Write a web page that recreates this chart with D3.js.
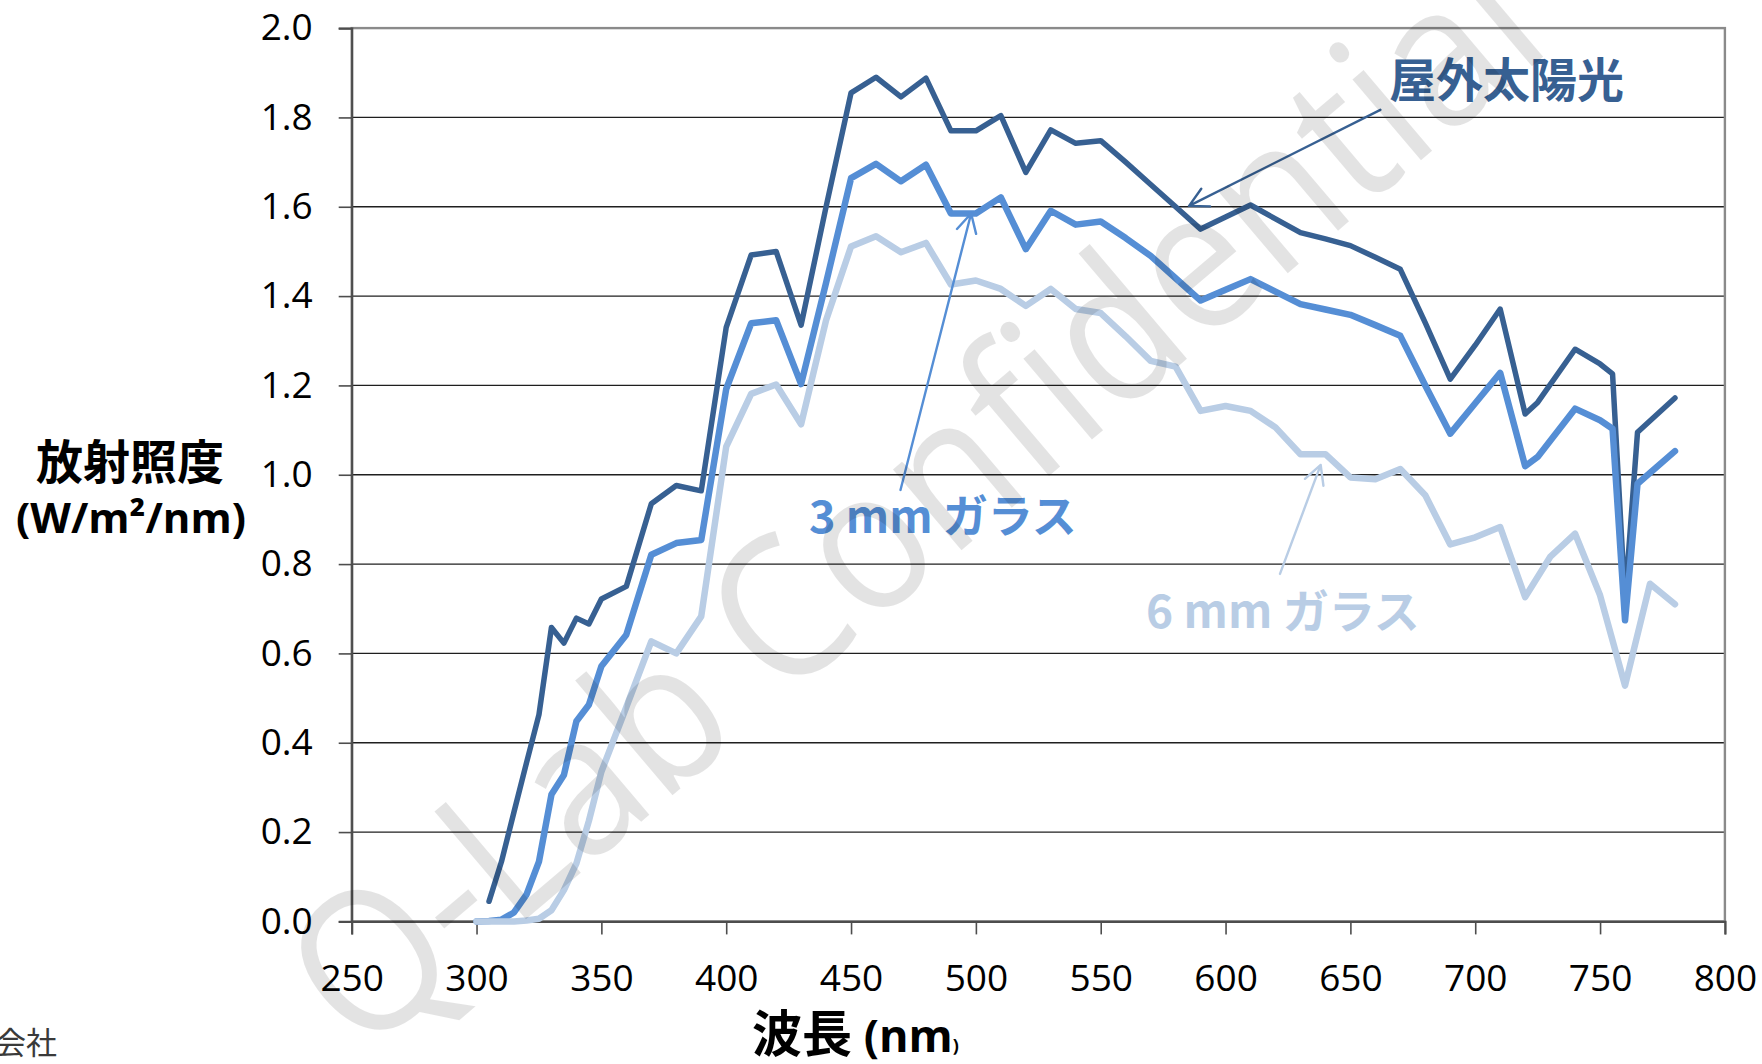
<!DOCTYPE html>
<html>
<head>
<meta charset="utf-8">
<script src="https://cdn.jsdelivr.net/npm/d3@7"></script>
<style>
  html, body { margin: 0; padding: 0; background: #fff; }
  svg { display: block; }
</style>
</head>
<body>
<svg id="chart" width="1762" height="1064"></svg>
<script>
// ---- Spectral irradiance data (W/m²/nm) ----
const wlSun = [305,310,315,320,325,330,335,340,345,350,360,370,380,390,400,410,420,430,440,450,460,470,480,490,500,510,520,530,540,550,560,570,580,590,600,610,620,630,640,650,660,670,680,690,700,710,720,725,740,750,755,760,765,780];
const sun = [0.045,0.134,0.245,0.355,0.463,0.658,0.623,0.679,0.666,0.722,0.750,0.935,0.976,0.964,1.330,1.492,1.500,1.335,1.600,1.855,1.890,1.846,1.888,1.770,1.770,1.804,1.677,1.772,1.742,1.748,1.700,1.650,1.600,1.550,1.577,1.604,1.573,1.542,1.528,1.513,1.487,1.460,1.340,1.214,1.290,1.371,1.136,1.162,1.281,1.248,1.226,0.720,1.095,1.172];

const wlGlass3 = [300,305,310,315,320,325,330,335,340,345,350,360,370,380,390,400,410,420,430,440,450,460,470,480,490,500,510,520,530,540,550,560,570,580,590,600,610,620,630,640,650,660,670,680,690,700,710,720,725,740,750,755,760,765,780];
const glass3 = [0,0.001,0.004,0.020,0.060,0.134,0.284,0.328,0.448,0.485,0.571,0.642,0.821,0.847,0.854,1.192,1.339,1.346,1.203,1.430,1.664,1.696,1.657,1.694,1.585,1.585,1.621,1.505,1.591,1.560,1.567,1.530,1.490,1.440,1.390,1.414,1.438,1.410,1.382,1.370,1.358,1.335,1.311,1.200,1.092,1.160,1.228,1.019,1.040,1.148,1.122,1.103,0.674,0.980,1.053];

const wlGlass6 = [300,305,310,315,320,325,330,335,340,345,350,360,370,380,390,400,410,420,430,440,450,460,470,480,490,500,510,520,530,540,550,560,570,580,590,600,610,620,630,640,650,660,670,680,690,700,710,720,730,740,750,760,770,780];
const glass6 = [0,0,0,0,0.002,0.006,0.025,0.070,0.130,0.225,0.335,0.480,0.627,0.600,0.683,1.063,1.181,1.202,1.113,1.346,1.511,1.534,1.498,1.519,1.426,1.435,1.416,1.378,1.416,1.371,1.362,1.310,1.255,1.242,1.143,1.154,1.143,1.106,1.046,1.046,0.994,0.990,1.013,0.954,0.844,0.860,0.883,0.726,0.816,0.868,0.730,0.528,0.756,0.710];

// ---- Axis ticks ----
const xTicks = [250,300,350,400,450,500,550,600,650,700,750,800];
const yTicks = [0,0.2,0.4,0.6,0.8,1.0,1.2,1.4,1.6,1.8,2.0];

// ---- Labels ----
const seriesNames = ["屋外太陽光", "3 mm ガラス", "6 mm ガラス"];
const yTitle = ["放射照度", "(W/m²/nm)"];
const xTitle = "波長";
const watermark = "Q-Lab Confidential";

// ---- Layout & styles ----
const plot = { left: 351.7, right: 1724.9, top: 28.1, bottom: 921.4 };
const colors = ["#376092", "#558ED5", "#B9CDE5"];
const widths = [5.5, 6.5, 6.5];
const latin = "'Open Sans', 'Noto Sans', sans-serif";
const cjk = "'Noto Sans CJK JP', 'Noto Sans', sans-serif";

const svg = d3.select("#chart");
svg.append("rect").attr("width", 1762).attr("height", 1064).attr("fill", "#fff");

const x = d3.scaleLinear().domain([250, 800]).range([plot.left, plot.right]);
const y = d3.scaleLinear().domain([0, 2]).range([plot.bottom, plot.top]);

// Horizontal gridlines
svg.append("g")
  .selectAll("line")
  .data(yTicks.filter(v => v > 0 && v < 2))
  .join("line")
  .attr("x1", plot.left).attr("x2", plot.right)
  .attr("y1", d => y(d)).attr("y2", d => y(d))
  .attr("stroke", "#1f1f1f").attr("stroke-width", 1.3);

// Plot-area frame
svg.append("rect")
  .attr("x", plot.left).attr("y", plot.top)
  .attr("width", plot.right - plot.left).attr("height", plot.bottom - plot.top)
  .attr("fill", "none").attr("stroke", "#8a8a8a").attr("stroke-width", 2.4);

// Axes
const yAxis = svg.append("g")
  .attr("transform", `translate(${plot.left},0)`)
  .call(d3.axisLeft(y).tickValues(yTicks).tickFormat(d3.format(".1f")).tickSize(13).tickPadding(26));
const xAxis = svg.append("g")
  .attr("transform", `translate(0,${plot.bottom})`)
  .call(d3.axisBottom(x).tickValues(xTicks).tickFormat(d3.format("d")).tickSize(13).tickPadding(30));

[yAxis, xAxis].forEach(g => {
  g.select(".domain").attr("stroke", "#4d4d4d").attr("stroke-width", 2.2);
  g.selectAll(".tick line").attr("stroke", "#4d4d4d").attr("stroke-width", 1.6);
  g.selectAll(".tick text")
    .attr("fill", "#000")
    .style("font-family", latin)
    .style("font-size", "37px");
});

// Spectral curves
const line = d3.line().x(d => x(d[0])).y(d => y(d[1]));
const series = [d3.zip(wlSun, sun), d3.zip(wlGlass3, glass3), d3.zip(wlGlass6, glass6)];
svg.append("g")
  .selectAll("path")
  .data(series)
  .join("path")
  .attr("d", line)
  .attr("fill", "none")
  .attr("stroke", (d, i) => colors[i])
  .attr("stroke-width", (d, i) => widths[i])
  .attr("stroke-linejoin", "round")
  .attr("stroke-linecap", "round");

// Callout arrows (anchors in data units) and their labels
const callouts = [
  { tail: [662.0, 1.817], tip: [585.4, 1.602], color: colors[0] },
  { tail: [469.8, 0.966], tip: [498.1, 1.585], color: colors[1] },
  { tail: [621.8, 0.778], tip: [638.1, 1.022], color: colors[2] }
];
const calloutG = svg.append("g");
callouts.forEach(c => {
  const [tx, ty] = [x(c.tip[0]), y(c.tip[1])];
  const [sx, sy] = [x(c.tail[0]), y(c.tail[1])];
  const ang = Math.atan2(sy - ty, sx - tx);
  const arm = 21, spread = 28 * Math.PI / 180;
  const a1 = [tx + arm * Math.cos(ang - spread), ty + arm * Math.sin(ang - spread)];
  const a2 = [tx + arm * Math.cos(ang + spread), ty + arm * Math.sin(ang + spread)];
  calloutG.append("path")
    .attr("d", `M${sx},${sy}L${tx},${ty}M${a1[0]},${a1[1]}L${tx},${ty}L${a2[0]},${a2[1]}`)
    .attr("fill", "none").attr("stroke", c.color).attr("stroke-width", 2.4)
    .attr("stroke-linecap", "round").attr("stroke-linejoin", "round");
});
const labelSpecs = [
  { x: 1389, y: 76.5, size: 47 },
  { x: 809, y: 513, size: 45 },
  { x: 1146, y: 608, size: 46 }
];
labelSpecs.forEach((s, i) => {
  calloutG.append("text")
    .attr("x", s.x).attr("y", s.y)
    .attr("dominant-baseline", "central")
    .attr("fill", colors[i]).style("font-family", cjk).style("font-weight", 700)
    .style("font-size", s.size + "px")
    .text(seriesNames[i]);
});

// Axis titles
svg.append("text")
  .attr("x", 130).attr("y", 458.5).attr("text-anchor", "middle").attr("dominant-baseline", "central")
  .style("font-family", cjk).style("font-weight", 700).style("font-size", "47px").attr("fill", "#000")
  .text(yTitle[0]);
svg.append("text")
  .attr("x", 131).attr("y", 533).attr("text-anchor", "middle")
  .style("font-family", latin).style("font-weight", 700).style("font-size", "42px").attr("fill", "#000")
  .text(yTitle[1]);

const xt = svg.append("text").attr("x", 752).attr("y", 1052).attr("fill", "#000").style("font-weight", 700);
xt.append("tspan").style("font-family", cjk).style("font-size", "50px").text(xTitle);
xt.append("tspan").style("font-family", latin).style("font-size", "45px").text(" (nm");
xt.append("tspan").style("font-family", latin).style("font-size", "18px").text(")");

// Footer fragment
svg.append("text")
  .attr("x", 57).attr("y", 1040).attr("text-anchor", "end").attr("dominant-baseline", "central")
  .style("font-family", cjk).style("font-size", "31px").attr("fill", "#3a3a3a")
  .text("会社");

// Watermark (condensed, rotated)
svg.append("text")
  .attr("transform", "translate(361.5,1058.9) rotate(-40.3) scale(0.91,1)")
  .style("font-family", latin).style("font-size", "198px")
  .attr("fill", "#000").attr("fill-opacity", 0.11)
  .text(watermark);
</script>
</body>
</html>
